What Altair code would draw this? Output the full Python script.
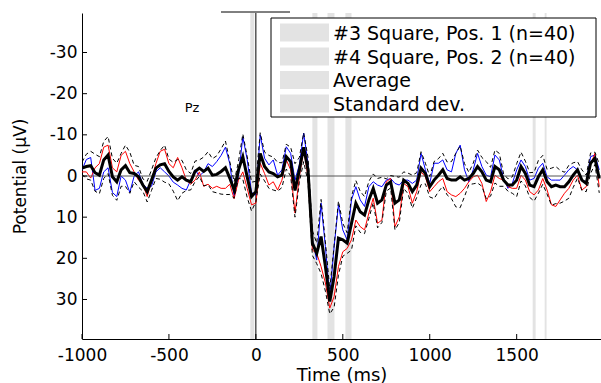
import altair as alt
import pandas as pd

FONT = "DejaVu Sans"

# time grid (ms): -1000 .. 1975, every 25 ms
T_START, T_STEP = -1000, 25

avg = [
    -1.9, -2.3, -2.5, -0.8, -0.2, -3.9, -5.1, 0.2, 1.4, -1.5,
    -2.5, -0.8, -0.6, 0.2, 2.2, 3.8, 1.0, -1.9, -2.7, -3.0,
    -1.1, 0.2, 1.0, 0.2, 1.0, 1.4, -1.1, -1.9, -1.1, -1.9,
    -0.2, -0.4, -1.1, -2.0, 0.5, 3.4, -1.5, -4.7, 0.2, 5.0,
    3.8, -5.5, -2.3, -1.0, -0.6, 0.2, -0.2, -4.7, -3.5, 3.5,
    -1.5, -7.0, -1.5, 16.3, 18.8, 14.7, 22.0, 30.5, 24.4, 15.1,
    15.5, 16.3, 11.5, 6.6, 8.7, 9.5, 5.8, 3.0, 6.6, 5.8,
    2.2, 1.4, 6.6, 5.8, 1.0, 1.8, 3.8, 2.2, -1.9, -0.6,
    2.6, 1.0, -0.2, -1.5, 0.6, 1.0, 1.0, 0.2, 1.0, 0.6,
    -0.6, -2.3, -1.0, 1.0, 1.4, -2.3, -1.5, 1.0, 2.2, 2.2,
    1.0, -2.3, -0.6, 2.2, 2.6, 0.2, -1.5, 1.4, 2.6, 2.2,
    2.6, 2.6, 1.4, -0.2, -1.5, 1.0, 1.8, -3.1, -4.3, 0.6,
]

pos2_blue = [
    -1.5, -4.0, -4.5, 3.5, 3.0, -1.0, -2.0, 4.0, 5.0, 0.0,
    1.0, 4.0, 0.0, -1.0, 2.0, 3.0, 2.5, -1.0, -2.0, -1.0,
    0.0, 1.5, 2.2, 3.0, 3.4, 1.0, -1.5, 0.0, -1.0, -3.0,
    -2.3, -3.5, -5.0, -7.0, -3.0, 5.0, 0.0, -9.5, -4.0, 4.0,
    4.6, -10.0, -4.3, -2.7, -3.9, -0.2, -1.5, -7.1, -5.5, 1.0,
    -2.7, -10.4, -3.1, 15.5, 20.4, 6.6, 17.2, 29.3, 17.2, 7.0,
    13.1, 15.5, 5.8, 2.6, 5.8, 7.4, 2.6, 1.4, 2.2, 2.6,
    1.0, 0.6, 1.8, 2.2, 1.0, 1.0, 1.8, 1.0, -5.5, -1.5,
    1.8, -3.1, -3.1, -3.9, -1.5, -1.0, -5.5, -7.5, -1.5, 1.4,
    -1.5, -5.5, -2.3, -0.2, 0.2, -5.1, -3.9, 0.6, 3.0, 1.8,
    -1.5, -3.9, -2.3, 1.0, 0.6, -1.9, -3.1, 0.2, 1.0, 1.0,
    1.0, -0.2, -1.5, -2.3, -1.5, 1.0, 1.4, -4.7, -5.1, -1.5,
]

pos1_red = [
    -1.0, -1.0, 0.5, -2.0, -3.0, -7.0, -7.5, -2.0, -1.0, -5.0,
    -6.0, -3.0, -1.0, 1.0, 2.0, 5.0, 1.0, -3.0, -6.0, -6.5,
    -3.0, -2.0, -4.5, -2.0, 1.0, 2.0, 1.0, -1.0, 2.5, 2.0,
    3.0, 2.5, 3.0, 3.0, 2.0, 5.5, 1.0, -1.0, 3.0, 7.0,
    6.6, -3.1, -0.6, 2.2, 1.4, 3.4, 1.0, -3.9, -1.5, 9.0,
    0.2, -6.3, 0.2, 18.0, 18.8, 22.0, 26.0, 32.1, 29.3, 22.0,
    18.4, 17.6, 15.5, 10.7, 12.3, 13.1, 9.0, 5.4, 11.5, 10.7,
    1.4, 0.6, 12.3, 9.9, 1.8, 2.6, 6.6, 3.8, -1.0, 0.2,
    3.8, 2.6, 1.4, 0.6, 3.8, 4.6, 5.0, 4.2, 3.0, 1.4,
    0.2, -0.2, 1.8, 6.2, 3.8, -0.2, 0.6, 1.0, 2.6, 3.0,
    3.0, -0.2, 1.0, 3.8, 4.6, 3.4, 0.6, 3.4, 7.0, 7.4,
    5.8, 4.2, 3.0, 1.0, -0.2, 3.4, 2.6, -2.7, -5.5, 2.6,
]

std_dev = [
    1.5, 3.0, 3.5, 4.5, 4.5, 4.5, 4.5, 4.5, 4.5, 4.0,
    5.0, 5.0, 2.0, 2.5, 1.5, 2.5, 2.5, 2.5, 3.5, 4.5,
    3.0, 3.5, 5.0, 4.0, 2.5, 2.0, 2.5, 2.0, 3.5, 4.0,
    4.0, 4.5, 5.5, 6.5, 4.0, 2.0, 2.0, 5.5, 5.0, 3.5,
    2.5, 5.0, 3.5, 4.0, 4.0, 3.5, 3.0, 3.0, 3.5, 6.5,
    3.0, 3.5, 3.0, 3.0, 2.5, 9.0, 6.0, 3.0, 7.5, 9.0,
    4.0, 2.5, 6.5, 5.5, 5.0, 4.5, 4.5, 3.5, 6.0, 5.5,
    1.5, 1.5, 6.5, 5.5, 2.0, 2.5, 4.0, 3.0, 4.0, 2.5,
    2.5, 4.5, 4.0, 4.0, 4.0, 4.5, 6.5, 7.5, 4.0, 1.5,
    2.5, 4.0, 3.5, 4.5, 3.5, 4.0, 4.0, 1.5, 1.5, 2.0,
    4.0, 3.5, 3.0, 3.0, 3.5, 4.0, 3.5, 3.0, 4.5, 4.5,
    4.0, 3.5, 4.0, 3.0, 2.0, 2.5, 2.0, 2.5, 1.5, 3.5,
]

assert len(avg) == len(pos2_blue) == len(pos1_red) == len(std_dev) == 120
times = [T_START + i * T_STEP for i in range(len(avg))]

# light grey significance bands (ms)
band_start = [-32, 325, 412, 515, 1592, 1661]
band_end = [-9, 354, 452, 550, 1609, 1672]

x_ticks = [-1000, -500, 0, 500, 1000, 1500]
y_ticks = [-30, -20, -10, 0, 10, 20, 30]

legend_labels = [
    "#3 Square, Pos. 1 (n=40)",
    "#4 Square, Pos. 2 (n=40)",
    "Average",
    "Standard dev.",
]
electrode = "Pz"

W, H = 519, 326

df = pd.DataFrame({"t": times, "blue": pos2_blue, "red": pos1_red,
                   "avg": avg, "sd": std_dev})
bands = pd.DataFrame({"start": band_start, "end": band_end})
xt = pd.DataFrame({"v": x_ticks})
yt = pd.DataFrame({"v": y_ticks})
one = pd.DataFrame({"k": [0]})

xs = alt.Scale(domain=[-1000, 1985], nice=False, zero=False)
ys = alt.Scale(domain=[-39.6, 39.6], reverse=True, nice=False, zero=False)

x_axis = alt.Axis(values=x_ticks, title="Time (ms)", labelExpr="'' + datum.value",
                  labelPadding=8, titlePadding=3, titleFontSize=18,
                  labelFlush=False, labelOverlap=False, ticks=False, grid=False)
y_axis = alt.Axis(values=y_ticks, title="Potential (μV)", labelExpr="'' + datum.value",
                  labelPadding=5, titlePadding=20, titleFontSize=17,
                  labelOverlap=False, ticks=False, grid=False)


def X(field):
    return alt.X(field, scale=xs, axis=x_axis)


def Y(field):
    return alt.Y(field, scale=ys, axis=y_axis)


band_layer = alt.Chart(bands).mark_rect(color="#e3e3e3").encode(
    x=X("start:Q"),
    x2="end:Q",
    y=alt.value(0),
    y2=alt.value(H),
)

vline = alt.Chart(one).mark_rule(color="black", strokeWidth=1).encode(
    x=alt.X(datum=0, scale=xs, axis=x_axis)
)

base = alt.Chart(df)

blue_line = base.mark_line(color="#0000ff", strokeWidth=1, clip=True).encode(
    x=X("t:Q"), y=Y("blue:Q"),
)
red_line = base.mark_line(color="#ff0000", strokeWidth=1, clip=True).encode(
    x=X("t:Q"), y=Y("red:Q"),
)
sd_up = base.transform_calculate(up="datum.avg - datum.sd").mark_line(
    color="black", strokeWidth=1, strokeDash=[4, 3], clip=True
).encode(x=X("t:Q"), y=Y("up:Q"))
sd_lo = base.transform_calculate(lo="datum.avg + datum.sd").mark_line(
    color="black", strokeWidth=1, strokeDash=[4, 3], clip=True
).encode(x=X("t:Q"), y=Y("lo:Q"))
zero_line = alt.Chart(one).mark_rule(color="#555555", strokeWidth=1).encode(
    y=alt.Y(datum=0, scale=ys, axis=y_axis)
)
avg_line = base.mark_line(color="black", strokeWidth=3, clip=True).encode(
    x=X("t:Q"), y=Y("avg:Q"),
)

# inward MATLAB-style ticks
xtick_layer = alt.Chart(xt).mark_rule(color="black", strokeWidth=1).encode(
    x=X("v:Q"),
    y=alt.value(H),
    y2=alt.value(H - 5),
)
ytick_layer = alt.Chart(yt).mark_rule(color="black", strokeWidth=1).encode(
    y=Y("v:Q"),
    x=alt.value(0),
    x2=alt.value(5),
)
top_seg = alt.Chart(one).mark_rule(color="black", strokeWidth=1).encode(
    x=alt.value(139), x2=alt.value(208), y=alt.value(-1)
)

# legend box
legend_box = alt.Chart(one).mark_rect(fill="white", stroke="black", strokeWidth=1).encode(
    x=alt.value(189), x2=alt.value(514), y=alt.value(5), y2=alt.value(104)
)
row_y = [19.5, 43.5, 67, 90.5]
legend_layers = []
for lab, ry in zip(legend_labels, row_y):
    legend_layers.append(
        alt.Chart(one).mark_rect(color="#e3e3e3").encode(
            x=alt.value(198), x2=alt.value(247),
            y=alt.value(ry - 9), y2=alt.value(ry + 9),
        )
    )
    legend_layers.append(
        alt.Chart(one).mark_text(
            text=lab, align="left", baseline="middle", font=FONT,
            fontSize=19, color="black",
        ).encode(x=alt.value(251), y=alt.value(ry + 1))
    )

pz = alt.Chart(one).mark_text(
    text=electrode, align="center", baseline="middle", font=FONT,
    fontSize=13, color="black",
).encode(x=alt.value(110), y=alt.value(95))

chart = alt.layer(
    band_layer, vline, blue_line, red_line, zero_line, sd_up, sd_lo, avg_line,
    xtick_layer, ytick_layer, top_seg, legend_box, *legend_layers, pz,
).properties(
    width=W, height=H,
    autosize=alt.AutoSizeParams(type="none"),
    padding={"left": 82, "top": 13, "right": 0, "bottom": 44},
    background="white",
).configure_axis(
    domainColor="black", domainWidth=1, labelColor="black", titleColor="black",
    labelFont=FONT, titleFont=FONT, labelFontSize=17,
    titleFontWeight="normal",
).configure_view(stroke=None)

chart.save("out.html", embed_options={"renderer": "svg", "actions": False})
